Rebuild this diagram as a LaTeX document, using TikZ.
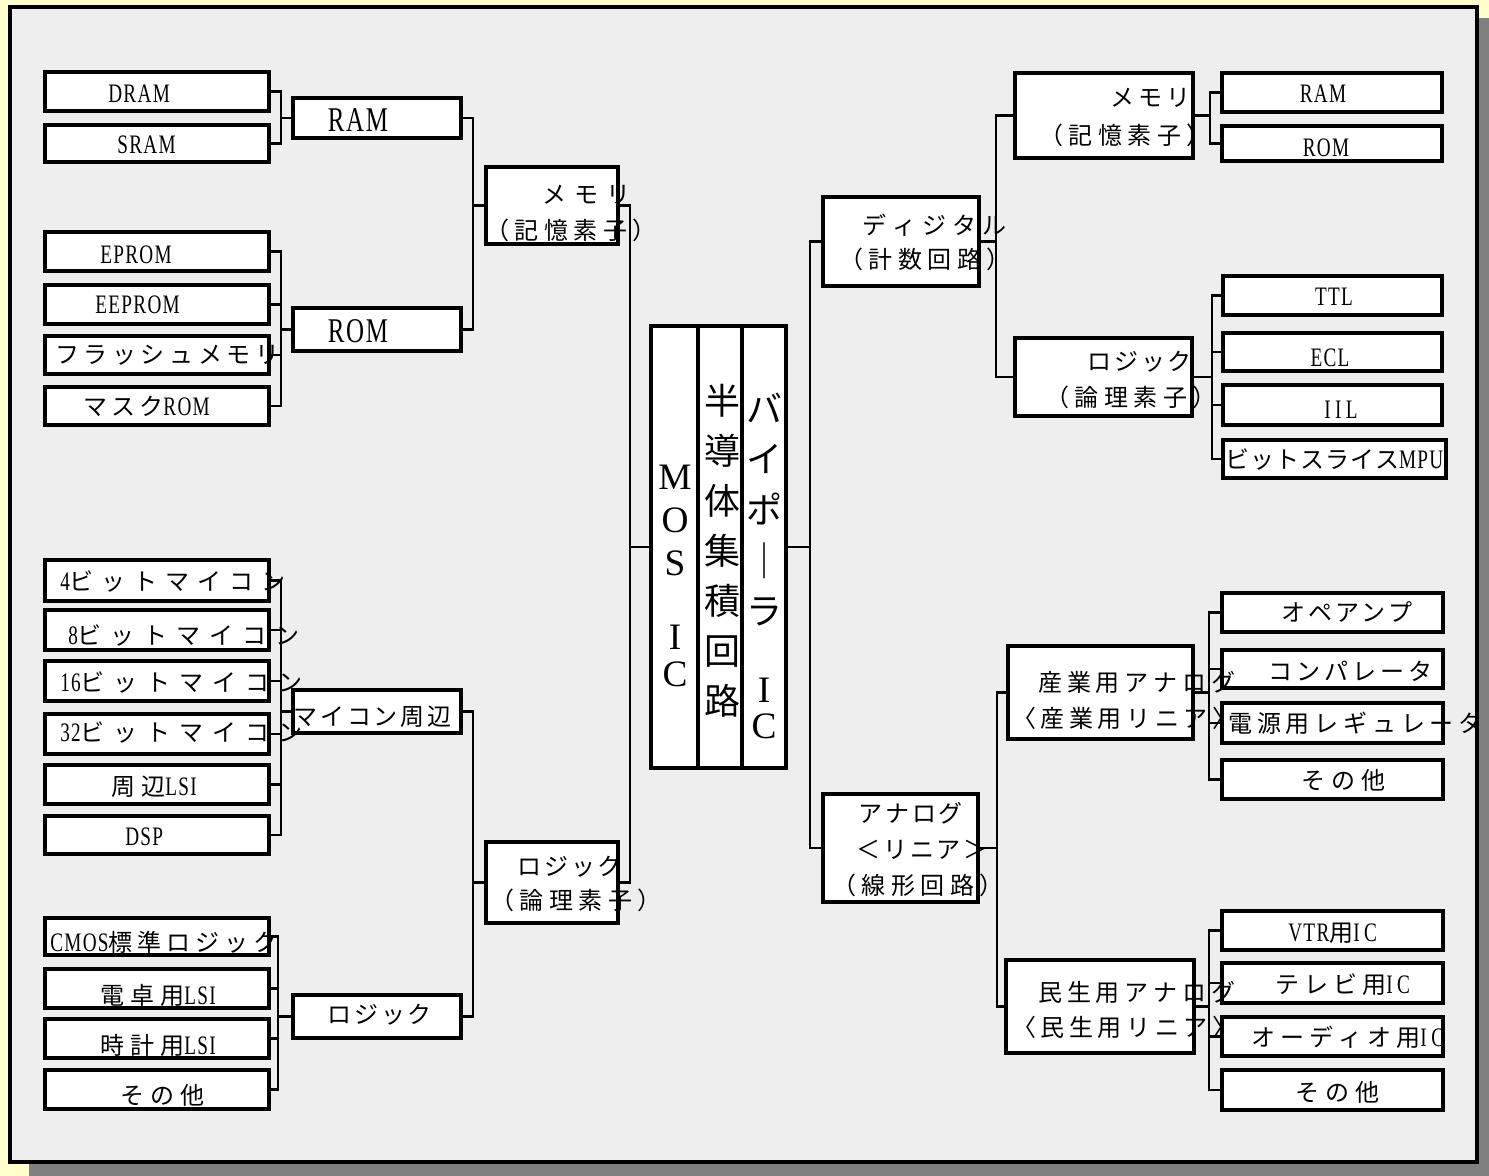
\documentclass[tikz,border=0pt]{standalone}
\usepackage{fontspec}
\setmainfont{Liberation Serif}
\newfontfamily\jp[Kerning=Off]{Noto Sans CJK JP}
\newfontfamily\lat[FakeStretch=0.72,LetterSpace=5]{Liberation Serif}
\usetikzlibrary{calc}
\definecolor{bgyellow}{HTML}{FFFFCC}
\definecolor{panelgray}{HTML}{EEEEEE}
\definecolor{shadowgray}{HTML}{808080}
\newcommand\Jp[2]{{\jp\addfontfeature{LetterSpace=#1}#2}}
\newcommand\La[1]{{\lat\fontsize{20pt}{20pt}\selectfont #1}}
\newcommand\bx[5]{\node[box,minimum width={(#4-#2)*0.75pt},minimum height={(#5-#3)*0.75pt}] (#1) at ({(#2+#4)/2},{(#3+#5)/2}) {};}
\tikzset{
  box/.style={draw=black,fill=white,line width=2.6pt,inner sep=0pt,outer sep=0pt},
  conn/.style={draw=black,line width=2pt},
  txt/.style={inner sep=0pt,anchor=west,font=\fontsize{18pt}{21pt}\selectfont},
  ctxt/.style={inner sep=0pt,anchor=center,font=\fontsize{18pt}{21pt}\selectfont},
}
\begin{document}
\begin{tikzpicture}[x=0.75pt,y=-0.75pt]
\useasboundingbox (0,0) rectangle (1489,1176);
\fill[bgyellow] (0,0) rectangle (1489,1176);
\fill[shadowgray] (29,18) rectangle (1489,1176);
\draw[fill=panelgray,line width=3pt] (10,7) rectangle (1476.5,1161.5);

% ---------- boxes ----------
\bx{DRAM}{45}{72}{269}{111}
\bx{SRAM}{45}{125}{269}{162}
\bx{RAM}{293}{98}{461}{138}
\bx{EPROM}{45}{232}{269}{271}
\bx{EEPROM}{45}{285}{269}{324}
\bx{Flash}{45}{336}{269}{374}
\bx{MROM}{45}{387}{269}{425}
\bx{ROM}{293}{308}{461}{351}
\bx{mem}{486}{167}{618}{244}
\bx{mfour}{45}{560}{269}{601}
\bx{meight}{45}{610}{269}{650}
\bx{msixteen}{45}{661}{269}{701}
\bx{mthirtytwo}{45}{714}{269}{754}
\bx{lsi}{45}{765}{269}{804}
\bx{dsp}{45}{816}{269}{854}
\bx{mc}{293}{690}{461}{733}
\bx{logm}{486}{842}{618}{923}
\bx{cmos}{45}{918}{269}{955}
\bx{calc}{45}{969}{269}{1008}
\bx{clock}{45}{1019}{269}{1058}
\bx{othzero}{45}{1070}{269}{1109}
\bx{lg}{293}{995}{461}{1038}
\bx{colA}{651}{326}{698}{768}
\bx{colB}{698}{326}{742}{768}
\bx{colC}{742}{326}{786}{768}
\bx{dig}{823}{197}{979}{286}
\bx{ana}{823}{794}{978}{902}
\bx{memtwo}{1015}{73}{1193}{158}
\bx{logtwo}{1015}{338}{1192}{416}
\bx{rRAM}{1222}{73}{1442}{112}
\bx{rROM}{1222}{126}{1442}{161}
\bx{ttl}{1223}{276}{1442}{315}
\bx{ecl}{1223}{333}{1442}{371}
\bx{iil}{1223}{385}{1442}{425}
\bx{bs}{1223}{440}{1446}{478}
\bx{ind}{1008}{646}{1193}{739}
\bx{op}{1222}{593}{1443}{632}
\bx{cmp}{1222}{650}{1443}{688}
\bx{reg}{1222}{703}{1443}{743}
\bx{othone}{1222}{760}{1443}{799}
\bx{con}{1006}{960}{1194}{1053}
\bx{vtr}{1222}{911}{1443}{950}
\bx{tv}{1222}{963}{1443}{1003}
\bx{aud}{1222}{1017}{1443}{1056}
\bx{othtwo}{1222}{1070}{1443}{1110}

% ---------- bracket columns ----------
\coordinate (va) at (281,0);
\coordinate (vb) at (281,0);
\coordinate (vc) at (473,0);
\coordinate (vd) at (281,0);
\coordinate (ve) at (278,0);
\coordinate (vf) at (473,0);
\coordinate (vg) at (630,0);
\coordinate (vh) at (810,0);
\coordinate (vi) at (996,0);
\coordinate (vj) at (1210,0);
\coordinate (vk) at (1212,0);
\coordinate (vl) at (997,0);
\coordinate (vm) at (1209,0);
\coordinate (vn) at (1209,0);

% ---------- connectors ----------
\draw[conn] (DRAM.east) -| (SRAM.east -| va) -- (SRAM.east);
\draw[conn] (RAM.west) -- (RAM.west -| va);
\draw[conn] (EPROM.east) -| (MROM.east -| vb) -- (MROM.east);
\draw[conn] (EEPROM.east) -- (EEPROM.east -| vb);
\draw[conn] (Flash.east) -- (Flash.east -| vb);
\draw[conn] (ROM.west) -- (ROM.west -| vb);
\draw[conn] (RAM.east) -| (ROM.east -| vc) -- (ROM.east);
\draw[conn] (mem.west) -- (mem.west -| vc);
\draw[conn] (mfour.east) -| (dsp.east -| vd) -- (dsp.east);
\draw[conn] (meight.east) -- (meight.east -| vd);
\draw[conn] (msixteen.east) -- (msixteen.east -| vd);
\draw[conn] (mthirtytwo.east) -- (mthirtytwo.east -| vd);
\draw[conn] (lsi.east) -- (lsi.east -| vd);
\draw[conn] (mc.west) -- (mc.west -| vd);
\draw[conn] (cmos.east) -| (othzero.east -| ve) -- (othzero.east);
\draw[conn] (calc.east) -- (calc.east -| ve);
\draw[conn] (clock.east) -- (clock.east -| ve);
\draw[conn] (lg.west) -- (lg.west -| ve);
\draw[conn] (mc.east) -| (lg.east -| vf) -- (lg.east);
\draw[conn] (logm.west) -- (logm.west -| vf);
\draw[conn] (mem.east) -| (logm.east -| vg) -- (logm.east);
\draw[conn] (colA.west) -- (colA.west -| vg);
\draw[conn] (colC.east) -- (colC.east -| vh);
\draw[conn] (dig.west) -| (ana.west -| vh) -- (ana.west);
\draw[conn] (dig.east) -- (dig.east -| vi);
\draw[conn] (memtwo.west) -| (logtwo.west -| vi) -- (logtwo.west);
\draw[conn] (memtwo.east) -- (memtwo.east -| vj);
\draw[conn] (rRAM.west) -| (rROM.west -| vj) -- (rROM.west);
\draw[conn] (logtwo.east) -- (logtwo.east -| vk);
\draw[conn] (ttl.west) -| (bs.west -| vk) -- (bs.west);
\draw[conn] (ecl.west) -- (ecl.west -| vk);
\draw[conn] (iil.west) -- (iil.west -| vk);
\draw[conn] (ana.east) -- (ana.east -| vl);
\draw[conn] (ind.west) -| (con.west -| vl) -- (con.west);
\draw[conn] (ind.east) -- (ind.east -| vm);
\draw[conn] (op.west) -| (othone.west -| vm) -- (othone.west);
\draw[conn] (cmp.west) -- (cmp.west -| vm);
\draw[conn] (reg.west) -- (reg.west -| vm);
\draw[conn] (con.east) -- (con.east -| vn);
\draw[conn] (vtr.west) -| (othtwo.west -| vn) -- (othtwo.west);
\draw[conn] (tv.west) -- (tv.west -| vn);
\draw[conn] (aud.west) -- (aud.west -| vn);

% ---------- texts left ----------
\node[txt] (tDRAM) at (108,94) {\La{DRAM}};
\node[txt] (tSRAM) at (117,145) {\La{SRAM}};
\node[ctxt] (tRAM) at (358,120) {{\lat\fontsize{26pt}{26pt}\selectfont RAM}};
\node[txt] (tEPROM) at (100,255) {\La{EPROM}};
\node[txt] (tEEPROM) at (95,305) {\La{EEPROM}};
\node[txt] (tFlash) at (55,355) {\Jp{19}{フラッシュメモリ}};
\node[txt] (tMROM) at (83,406) {\Jp{17}{マスク}\La{ROM}};
\node[ctxt] (tROM) at (358,331) {{\lat\fontsize{26pt}{26pt}\selectfont ROM}};
\node[txt] (tmemA) at (542,195) {\Jp{33}{メモリ}};
\node[txt] (tmemB) at (485,230) {\Jp{23}{（記憶素子）}};
\node[txt] (tfour) at (60,582) {\La{4}\Jp{33}{ビットマイコン}};
\node[txt] (teight) at (68,636) {\La{8}\Jp{37}{ビットマイコン}};
\node[txt] (tsixteen) at (60,683) {\La{16}\Jp{37}{ビットマイコン}};
\node[txt] (tthirtytwo) at (60,733) {\La{32}\Jp{37}{ビットマイコン}};
\node[txt] (tlsi) at (111,787) {\Jp{25}{周辺}\La{LSI}};
\node[txt] (tdsp) at (125,837) {\La{DSP}};
\node[txt] (tmc) at (293,717) {\Jp{12}{マイコン周辺}};
\node[txt] (tlogmA) at (517,867) {\Jp{12}{ロジック}};
\node[txt] (tlogmB) at (490,900) {\Jp{23}{（論理素子）}};
\node[txt] (tcmos) at (50,942) {\La{CMOS}\Jp{21}{標準ロジック}};
\node[txt] (tcalc) at (100,995) {\Jp{25}{電卓用}\La{LSI}};
\node[txt] (tclock) at (100,1045) {\Jp{25}{時計用}\La{LSI}};
\node[txt] (tothzero) at (120,1095) {\Jp{25}{その他}};
\node[txt] (tlg) at (327,1015) {\Jp{12}{ロジック}};

% ---------- central ----------
\node[inner sep=0pt,align=center,font=\fontsize{28pt}{32pt}\selectfont] (tA) at (675,576) {M\\O\\S\\[24pt]I\\[-4.5pt]C};
\node[inner sep=0pt,align=center,font=\jp\fontsize{27pt}{37.5pt}\selectfont] (tB) at (722,551) {半\\導\\体\\集\\積\\回\\路};
\node[inner sep=0pt,align=center,font=\jp\fontsize{27pt}{38pt}\selectfont] (tC) at (764,566) {バ\\イ\\ポ\\｜\\ラ\\[20pt]{\rmfamily\fontsize{28pt}{32pt}\selectfont I}\\[-10.5pt]{\rmfamily\fontsize{28pt}{32pt}\selectfont C}};

% ---------- texts right ----------
\node[txt] (tdigA) at (862,225) {\Jp{25}{ディジタル}};
\node[txt] (tdigB) at (839,259) {\Jp{23}{（計数回路）}};
\node[txt] (tmemtwoA) at (1110,98) {\Jp{17}{メモリ}};
\node[txt] (tmemtwoB) at (1039,135) {\Jp{23}{（記憶素子）}};
\node[txt] (tlogtwoA) at (1087,362) {\Jp{12}{ロジック}};
\node[txt] (tlogtwoB) at (1045,397) {\Jp{23}{（論理素子）}};
\node[ctxt] (trRAM) at (1323,94) {\La{RAM}};
\node[ctxt] (trROM) at (1326,148) {\La{ROM}};
\node[ctxt] (tttl) at (1334,297) {\La{TTL}};
\node[ctxt] (tecl) at (1330,358) {\La{ECL}};
\node[ctxt] (tiil) at (1341,410) {\La{I\,I\,L}};
\node[txt] (tbs) at (1225,460) {\Jp{4}{ビットスライス}\La{MPU}};
\node[txt] (tanaA) at (858,813) {\Jp{12}{アナログ}};
\node[txt] (tanaB) at (856,850) {\Jp{12}{＜リニア＞}};
\node[txt] (tanaC) at (832,885) {\Jp{23}{（線形回路）}};
\node[txt] (tindA) at (1038,682) {\Jp{20}{産業用アナログ}};
\node[txt] (tindB) at (1012,718) {\Jp{19}{〈産業用リニア〉}};
\node[txt] (top) at (1281,612) {\Jp{12}{オペアンプ}};
\node[txt] (tcmp) at (1268,671) {\Jp{17}{コンパレータ}};
\node[txt] (treg) at (1228,723) {\Jp{20}{電源用レギュレータ}};
\node[txt] (tothone) at (1301,780) {\Jp{25}{その他}};
\node[txt] (tconA) at (1038,992) {\Jp{20}{民生用アナログ}};
\node[txt] (tconB) at (1012,1027) {\Jp{19}{〈民生用リニア〉}};
\node[txt] (tvtr) at (1288,933) {\La{VTR}\Jp{0}{用}\La{I\,C}};
\node[txt] (ttv) at (1275,985) {\Jp{21}{テレビ用}\La{I\,C}};
\node[txt] (taud) at (1251,1037) {\Jp{21}{オーディオ用}\La{I\,C}};
\node[txt] (tothtwo) at (1295,1092) {\Jp{25}{その他}};
\end{tikzpicture}
\end{document}
